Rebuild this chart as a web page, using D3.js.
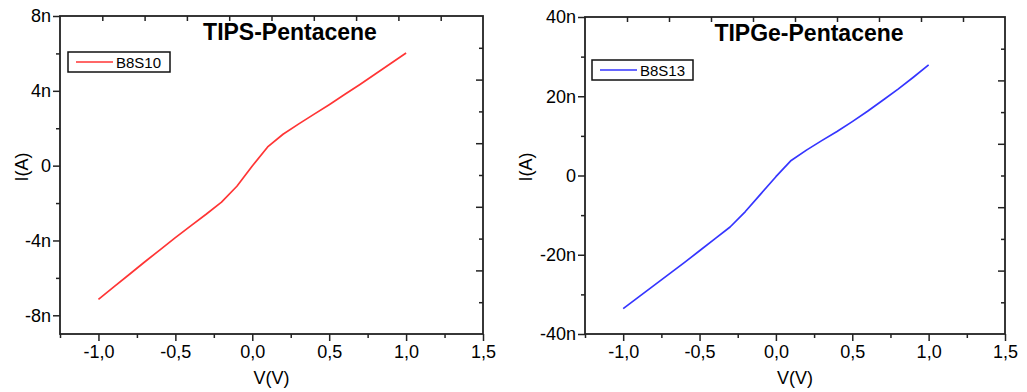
<!DOCTYPE html>
<html>
<head>
<meta charset="utf-8">
<script src="https://cdn.jsdelivr.net/npm/d3@7"></script>
<style>
  body { margin: 0; background: #fff; }
  text { font-family: Arial, "Liberation Sans", sans-serif; fill: #000; }
</style>
</head>
<body>
<svg width="1027" height="392"></svg>
<script>
// I-V data (current in nA)
const voltage = [-1.0, -0.9, -0.8, -0.7, -0.6, -0.5, -0.4, -0.3, -0.2, -0.1, 0.0,
                 0.1, 0.2, 0.3, 0.4, 0.5, 0.6, 0.7, 0.8, 0.9, 1.0];
const tipsCurrent = [-7.15, -6.48, -5.82, -5.15, -4.5, -3.85, -3.22, -2.6, -1.95, -1.1, -0.02,
                     1.0, 1.68, 2.22, 2.74, 3.26, 3.8, 4.34, 4.9, 5.46, 6.02];
const tipgeCurrent = [-33.6, -30.7, -27.8, -24.9, -22.0, -19.0, -16.0, -13.0, -9.1, -4.7, -0.3,
                      3.8, 6.4, 8.8, 11.1, 13.6, 16.2, 19.0, 21.8, 24.8, 27.9];

const xTicks = [-1.0, -0.5, 0.0, 0.5, 1.0, 1.5];
const xMinorTicks = [-1.25, -0.75, -0.25, 0.25, 0.75, 1.25];
const tipsTicks = [-8, -4, 0, 4, 8];
const tipsMinorTicks = [-6, -2, 2, 6];
const tipgeTicks = [-40, -20, 0, 20, 40];
const tipgeMinorTicks = [-30, -10, 10, 30];

const panels = [
  { title: 'TIPS-Pentacene', label: 'B8S10', color: '#ff3535', values: tipsCurrent,
    yDomain: [-9, 8], yTicks: tipsTicks, yMinor: tipsMinorTicks,
    box: { left: 60, top: 16, right: 483, bottom: 334 }, titleX: 290, titleY: 40,
    legend: { x: 68, y: 52, w: 102, h: 20 }, yTitleX: 28 },
  { title: 'TIPGe-Pentacene', label: 'B8S13', color: '#3535ff', values: tipgeCurrent,
    yDomain: [-40, 40], yTicks: tipgeTicks, yMinor: tipgeMinorTicks,
    box: { left: 585, top: 17, right: 1005, bottom: 334 }, titleX: 809, titleY: 41,
    legend: { x: 592, y: 60, w: 101, h: 20 }, yTitleX: 532 }
];

const svg = d3.select('svg');
const fmtX = (d) => (d < 0 ? '-' : '') + Math.abs(d).toFixed(1).replace('.', ',');
const fmtY = (d) => d === 0 ? '0' : d + 'n';

panels.forEach((p) => {
  const b = p.box;
  const x = d3.scaleLinear().domain([-1.25, 1.5]).range([b.left, b.right]);
  const y = d3.scaleLinear().domain(p.yDomain).range([b.bottom, b.top]);
  const g = svg.append('g');

  // bottom axis: minor then major
  g.append('g').attr('transform', `translate(0,${b.bottom})`)
    .call(d3.axisBottom(x).tickValues(xMinorTicks).tickSize(4).tickSizeOuter(0).tickFormat(''));
  g.append('g').attr('transform', `translate(0,${b.bottom})`)
    .call(d3.axisBottom(x).tickValues(xTicks).tickSize(7).tickSizeOuter(0).tickPadding(4).tickFormat(fmtX))
    .selectAll('text').style('font-size', '18px');

  // left axis
  g.append('g').attr('transform', `translate(${b.left},0)`)
    .call(d3.axisLeft(y).tickValues(p.yMinor).tickSize(4).tickSizeOuter(0).tickFormat(''));
  g.append('g').attr('transform', `translate(${b.left},0)`)
    .call(d3.axisLeft(y).tickValues(p.yTicks).tickSize(7).tickSizeOuter(0).tickPadding(2).tickFormat(fmtY))
    .selectAll('text').style('font-size', '18px');

  // mirrored top / right axes, ten equal divisions
  const xTop = d3.scaleLinear().domain([0, 10]).range([b.left, b.right]);
  const yRight = d3.scaleLinear().domain([0, 10]).range([b.bottom, b.top]);
  g.append('g').attr('transform', `translate(0,${b.top})`)
    .call(d3.axisBottom(xTop).tickValues(d3.range(1, 10)).tickSize(5).tickSizeOuter(0).tickFormat(''));
  g.append('g').attr('transform', `translate(${b.right},0)`)
    .call(d3.axisLeft(yRight).tickValues(d3.range(1, 10)).tickSizeOuter(0).tickFormat(''))
    .selectAll('.tick line').attr('x2', (d) => d % 2 === 0 ? -7 : -4);

  g.selectAll('.domain').remove();
  g.selectAll('.tick line').attr('stroke', '#222').attr('stroke-width', 1.5);

  // frame
  g.append('rect')
    .attr('x', b.left).attr('y', b.top)
    .attr('width', b.right - b.left).attr('height', b.bottom - b.top)
    .attr('fill', 'none').attr('stroke', '#222').attr('stroke-width', 1.8);

  // curve
  const line = d3.line().x((d, i) => x(voltage[i])).y((d) => y(d));
  g.append('path').datum(p.values)
    .attr('d', line)
    .attr('fill', 'none').attr('stroke', p.color).attr('stroke-width', 1.7)
    .attr('stroke-linejoin', 'round');

  // titles
  g.append('text').attr('x', p.titleX).attr('y', p.titleY)
    .attr('text-anchor', 'middle').style('font-size', '23px').style('font-weight', 'bold')
    .text(p.title);
  g.append('text').attr('x', (b.left + b.right) / 2).attr('y', 384)
    .attr('text-anchor', 'middle').style('font-size', '18px').text('V(V)');
  g.append('text').attr('transform', `translate(${p.yTitleX},167) rotate(-90)`)
    .attr('text-anchor', 'middle').style('font-size', '18px').text('I(A)');

  // legend
  const L = p.legend;
  g.append('rect').attr('x', L.x).attr('y', L.y).attr('width', L.w).attr('height', L.h)
    .attr('fill', '#fff').attr('stroke', '#111').attr('stroke-width', 1.5);
  g.append('line').attr('x1', L.x + 8).attr('x2', L.x + 45)
    .attr('y1', L.y + L.h / 2).attr('y2', L.y + L.h / 2)
    .attr('stroke', p.color).attr('stroke-width', 1.7);
  g.append('text').attr('x', L.x + 48).attr('y', L.y + L.h / 2 + 5.5)
    .style('font-size', '15px').text(p.label);
});
</script>
</body>
</html>
